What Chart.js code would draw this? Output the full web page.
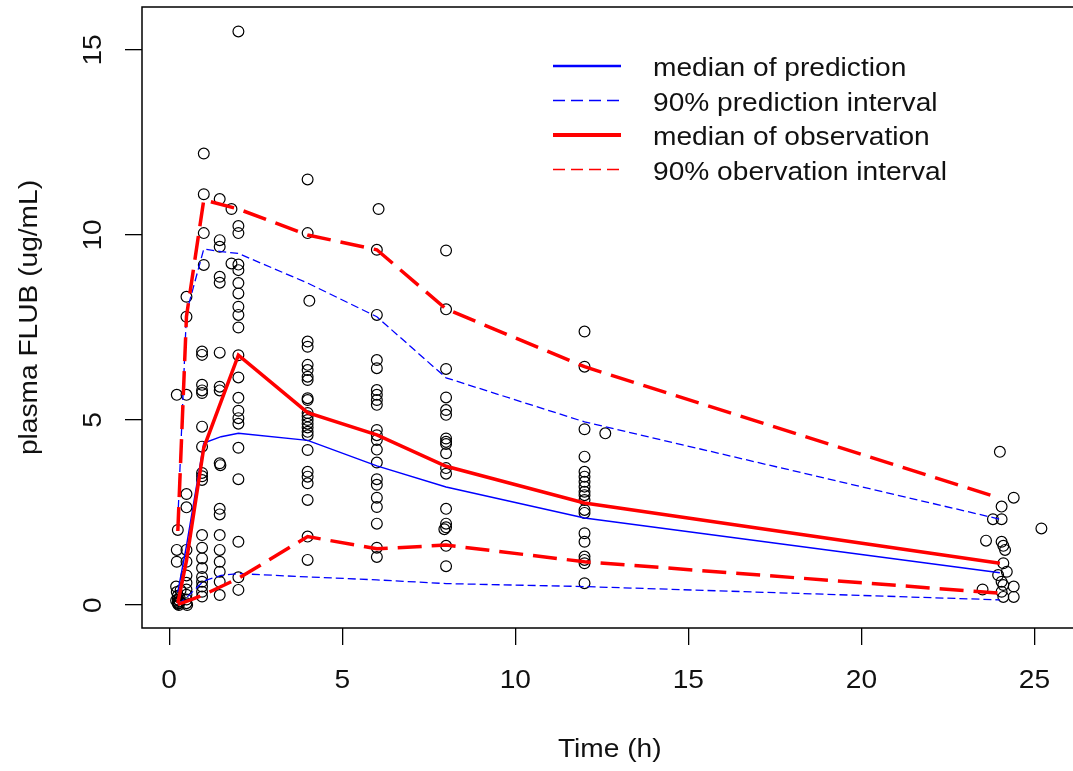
<!DOCTYPE html>
<html>
<head>
<meta charset="utf-8">
<script src="https://cdn.jsdelivr.net/npm/chart.js@4.4.1/dist/chart.umd.min.js"></script>
<style>
html, body { margin: 0; padding: 0; background: #fff; overflow: hidden; width: 1073px; height: 771px; }
#wrap { position: absolute; left: 0; top: 0; width: 1084px; height: 771px; }
canvas { display: block; }
</style>
</head>
<body>
<div id="wrap"><canvas id="c" width="1084" height="771"></canvas></div>
<script>
// ---------- tick labels / titles ----------
const xTicks = [0, 5, 10, 15, 20, 25];
const yTicks = [0, 5, 10, 15];
const xTitle = 'Time (h)';
const yTitle = 'plasma FLUB (ug/mL)';
const legendLabels = ['median of prediction', '90% prediction interval', 'median of observation', '90% obervation interval'];

// ---------- prediction summary (blue) ----------
const predTime   = [0.25, 0.5, 1, 1.5, 2, 4, 6, 8, 12, 24];
const predMedian = [0.35, 1.6, 4.38, 4.55, 4.64, 4.45, 3.76, 3.19, 2.35, 0.87];
const predUpper  = [2.3, 7.9, 9.62, 9.55, 9.5, 8.7, 7.79, 6.14, 4.95, 2.32];
const predLower  = [0.02, 0.2, 0.65, 0.8, 0.85, 0.76, 0.68, 0.58, 0.5, 0.14];

// ---------- observation summary (red) ----------
const obsLineTime = [0.25, 0.5, 1, 2, 4, 6, 8, 12, 24];
const obsMedian   = [0.05, 1.2, 4.25, 6.75, 5.2, 4.6, 3.75, 2.76, 1.13];
const obsUpper    = [2.0, 7.8, 10.95, 10.7, 10.0, 9.6, 8.0, 6.44, 2.89];
const obsLower    = [0.02, 0.1, 0.28, 0.72, 1.85, 1.52, 1.62, 1.17, 0.32];

// ---------- observed concentrations [time, conc] ----------
const obs_0h25 = [[0.22,5.68],[0.25,2.03],[0.22,1.49],[0.22,1.17],[0.2,0.5],[0.22,0.35],[0.25,0.25],[0.25,0.15],
  [0.25,0.08],[0.25,0.03],[0.28,0.0],[0.3,0.2],[0.3,0.1],[0.33,0.4],[0.2,0.12],[0.27,0.05]];
const obs_0h5 = [[0.5,8.33],[0.5,7.79],[0.5,5.68],[0.5,3.0],[0.5,2.64],[0.5,1.49],[0.5,1.17],[0.5,0.8],
  [0.5,0.6],[0.5,0.42],[0.5,0.28],[0.5,0.15],[0.5,0.05],[0.52,0.0]];
const obs_1h = [[1,12.2],[1,11.1],[1,10.05],[1,9.19],[0.95,6.85],[0.95,6.76],[0.95,5.95],[0.95,5.8],[0.95,5.73],
  [0.95,4.82],[0.95,4.28],[0.95,3.57],[0.95,3.48],[0.95,3.38],[0.95,1.89],[0.95,1.55],[0.95,1.26],[0.95,1.0],
  [0.95,0.76],[0.95,0.63],[0.95,0.5],[0.95,0.36],[0.95,0.23]];
const obs_1h5 = [[1.46,10.97],[1.46,9.86],[1.46,9.68],[1.46,8.87],[1.46,8.71],[1.46,6.82],[1.46,5.9],[1.46,5.8],
  [1.46,3.83],[1.48,3.78],[1.46,2.6],[1.46,2.45],[1.46,1.89],[1.46,1.49],[1.46,1.17],[1.46,0.9],[1.46,0.63],[1.46,0.27]];
const obs_2h = [[2,15.5],[1.8,10.7],[2,10.24],[2,10.05],[1.8,9.23],[2,9.2],[2,9.05],[2,8.7],[2,8.42],[2,8.06],
  [2,7.84],[2,7.5],[2,6.75],[2,6.15],[2,5.6],[2,5.25],[2,5.05],[2,4.9],[2,4.25],[2,3.4],[2,1.71],[2,0.75],[2,0.41]];
const obs_4h = [[4,11.5],[4,10.05],[4.05,8.22],[4,7.12],[4,6.98],[4,6.49],[4,6.35],[4,6.17],[4,6.08],[4,5.59],
  [4,5.54],[4,5.19],[4,5.1],[4,5.0],[4,4.9],[4,4.8],[4,4.68],[4,4.59],[4,4.19],[4,3.6],[4,3.47],[4,3.29],
  [4,2.84],[4,1.85],[4,1.22]];
const obs_6h = [[6.05,10.7],[6,9.6],[6,7.84],[6,6.62],[6,6.4],[6,5.81],[6,5.68],[6,5.54],[6,5.41],[6,4.73],
  [6,4.59],[6,4.46],[6,4.2],[6,3.85],[6,3.4],[6,3.25],[6,2.9],[6,2.65],[6,2.2],[6,1.55],[6,1.3]];
const obs_8h = [[8,9.58],[8,7.99],[8,6.38],[8,5.61],[8,5.27],[8,5.14],[8,4.5],[8,4.41],[8,4.35],[8,4.1],
  [8,3.7],[8,3.55],[8,2.6],[8,2.2],[8,2.1],[7.95,2.05],[8,1.6],[8,1.05]];
const obs_12h = [[12,7.39],[12,6.44],[12,4.75],[12.6,4.64],[12,4.01],[12,3.6],[12,3.47],[12,3.33],[12,3.2],
  [12,3.06],[12,2.97],[12,2.84],[12,2.57],[12,2.49],[12,1.94],[12,1.71],[12,1.31],[12,1.22],[12,1.13],[12,0.59]];
const obs_24h = [[24,4.14],[24.4,2.9],[24.05,2.66],[23.8,2.32],[24.05,2.32],[25.2,2.07],[23.6,1.74],[24.05,1.71],
  [24.1,1.6],[24.15,1.49],[24.1,1.13],[24.2,0.9],[23.95,0.81],[24.05,0.63],[24.1,0.54],[24.4,0.5],[23.5,0.42],
  [24.05,0.36],[24.1,0.22],[24.4,0.22]];

// ---------- build chart ----------
const allObs = [].concat(obs_0h25, obs_0h5, obs_1h, obs_1h5, obs_2h, obs_4h, obs_6h, obs_8h, obs_12h, obs_24h)
  .map(p => ({x: p[0], y: p[1]}));
const toXY = (ts, vs) => ts.map((t, i) => ({x: t, y: vs[i]}));

const BLUE = '#0000FF', RED = '#FF0000';
const FONT = '"Liberation Sans", Arial, sans-serif';
const FSIZE = 25, SX = 1.125;

function sText(ctx, text, x, y, rot, align) {
  ctx.save();
  ctx.translate(x, y);
  if (rot) ctx.rotate(rot);
  ctx.scale(SX, 1);
  ctx.textAlign = align;
  ctx.textBaseline = 'alphabetic';
  ctx.fillText(text, 0, 0);
  ctx.restore();
}

const decor = {
  id: 'decor',
  beforeDraw(chart) {
    const c = chart.ctx;
    c.save(); c.fillStyle = '#fff'; c.fillRect(0, 0, chart.width, chart.height); c.restore();
  },
  afterDraw(chart) {
    const c = chart.ctx, a = chart.chartArea;
    const xs = chart.scales.x, ys = chart.scales.y;
    c.save();
    // box
    c.strokeStyle = '#000'; c.lineWidth = 1.5;
    c.strokeRect(a.left, a.top, a.right - a.left, a.bottom - a.top);
    // tick labels
    c.fillStyle = '#111';
    c.font = FSIZE + 'px ' + FONT;
    xs.ticks.forEach(t => sText(c, String(t.value), xs.getPixelForValue(t.value), 688, 0, 'center'));
    ys.ticks.forEach(t => sText(c, String(t.value), 101, ys.getPixelForValue(t.value), -Math.PI / 2, 'center'));
    // titles
    sText(c, xTitle, (a.left + a.right) / 2, 757, 0, 'center');
    sText(c, yTitle, 37, (a.top + a.bottom) / 2, -Math.PI / 2, 'center');
    // legend
    const styles = [
      {color: BLUE, w: 2.7, dash: []},
      {color: BLUE, w: 1.5, dash: [12, 6]},
      {color: RED, w: 4, dash: []},
      {color: RED, w: 1.5, dash: [12, 6]}
    ];
    const base = [76, 110.5, 145, 179.5];
    legendLabels.forEach((lab, i) => {
      const s = styles[i], ly = base[i] - 10;
      c.beginPath();
      c.strokeStyle = s.color; c.lineWidth = s.w; c.setLineDash(s.dash);
      c.moveTo(553, ly); c.lineTo(621, ly); c.stroke();
      c.setLineDash([]);
      c.fillStyle = '#111';
      sText(c, lab, 653, base[i], 0, 'left');
    });
    c.restore();
  }
};

const lineDs = (label, data, color, width, dash, order) => ({
  type: 'scatter', label, data, showLine: true, borderColor: color, backgroundColor: color,
  borderWidth: width, borderDash: dash, pointRadius: 0, pointHoverRadius: 0, tension: 0, order
});

new Chart(document.getElementById('c'), {
  type: 'scatter',
  data: {
    datasets: [
      lineDs(legendLabels[2], toXY(obsLineTime, obsMedian), RED, 3.5, [], 0),
      lineDs(legendLabels[3], toXY(obsLineTime, obsUpper), RED, 3.5, [24, 10], 1),
      lineDs(legendLabels[3], toXY(obsLineTime, obsLower), RED, 3.5, [24, 10], 1),
      lineDs(legendLabels[0], toXY(predTime, predMedian), BLUE, 1.5, [], 2),
      lineDs(legendLabels[1], toXY(predTime, predUpper), BLUE, 1.3, [8, 4], 3),
      lineDs(legendLabels[1], toXY(predTime, predLower), BLUE, 1.3, [8, 4], 3),
      {
        label: 'observed', data: allObs, order: 10,
        pointStyle: 'circle', pointRadius: 5.4, pointHoverRadius: 5.4,
        borderColor: '#000', backgroundColor: 'rgba(0,0,0,0)', borderWidth: 1.2
      }
    ]
  },
  options: {
    responsive: false, animation: false, devicePixelRatio: 1,
    layout: { padding: { top: 7, right: 2, left: 0, bottom: 0 } },
    plugins: { legend: { display: false }, tooltip: { enabled: false } },
    scales: {
      x: {
        type: 'linear', min: -0.785, max: 26.24,
        afterBuildTicks: s => { s.ticks = xTicks.map(v => ({value: v})); },
        afterFit: s => { s.height = 143; },
        ticks: { display: false },
        grid: { display: true, drawOnChartArea: false, drawTicks: true, tickLength: 17, color: '#000', lineWidth: 1.3 },
        border: { display: false }
      },
      y: {
        type: 'linear', min: -0.62, max: 16.16,
        afterBuildTicks: s => { s.ticks = yTicks.map(v => ({value: v})); },
        afterFit: s => { s.width = 142; },
        ticks: { display: false },
        grid: { display: true, drawOnChartArea: false, drawTicks: true, tickLength: 17, color: '#000', lineWidth: 1.3 },
        border: { display: false }
      }
    }
  },
  plugins: [decor]
});
</script>
</body>
</html>
